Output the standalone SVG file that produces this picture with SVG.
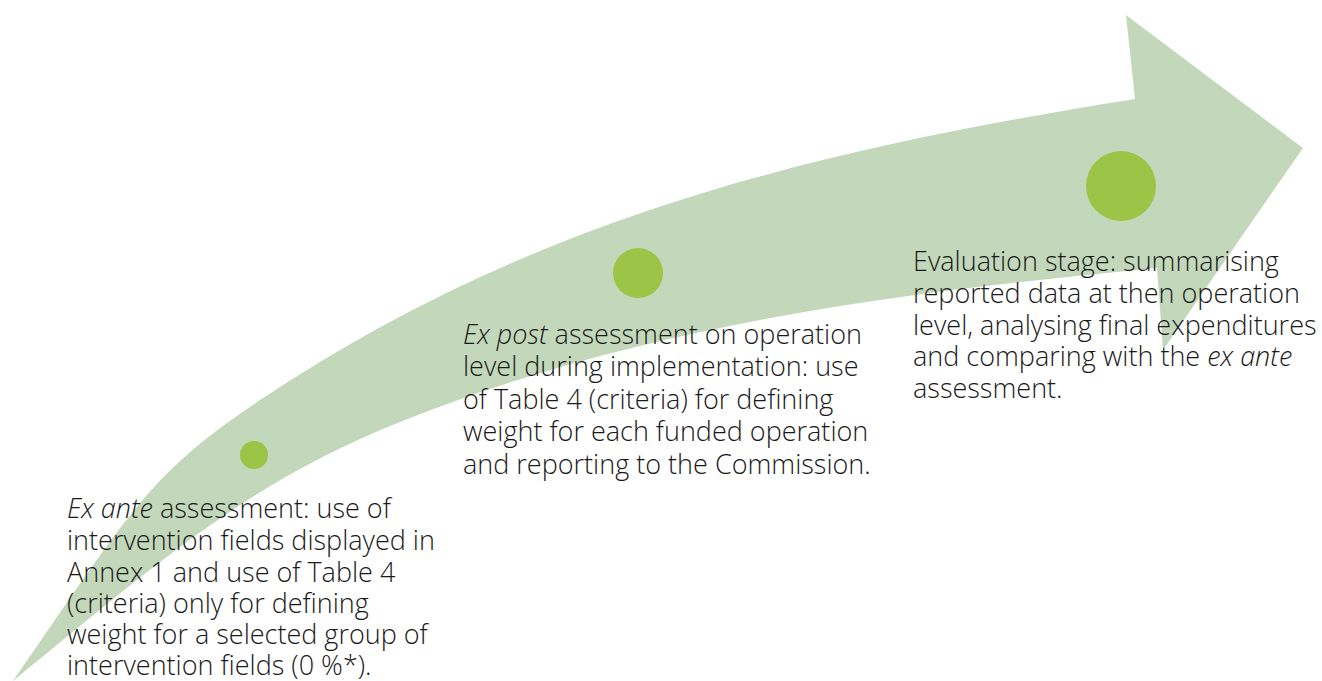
<svg xmlns="http://www.w3.org/2000/svg" width="1322" height="681" viewBox="0 0 1322 681">
<style>
.band{fill:#c3d8ba}
.dot{fill:#9cc446}
.lbl{font-family:"Open Sans","Noto Sans","DejaVu Sans",sans-serif;font-size:27px;font-weight:300;fill:#1a1a1a}
.it{font-style:italic}
</style>
<g id="arrow">
<path class="band" d="M13,681 C133,507 150,473.7 260,400 C540,212 835,147 1135,99 L1126,15 L1303,148 L1163,350 L1157,268 C907,292 650,322 400,422 C250,482 163,558 13,681 Z"/>
</g>
<g id="connectors"></g>
<g id="stage1">
<circle class="dot" cx="254" cy="455" r="14"/>
<text class="lbl" x="67" y="518"><tspan class="it">Ex ante</tspan> assessment: use of</text>
<text class="lbl" x="67" y="550">intervention fields displayed in</text>
<text class="lbl" x="67" y="582">Annex 1 and use of Table 4</text>
<text class="lbl" x="67" y="613">(criteria) only for defining</text>
<text class="lbl" x="67" y="644">weight for a selected group of</text>
<text class="lbl" x="67" y="675">intervention fields (0 %*).</text>
</g>
<g id="stage2">
<circle class="dot" cx="638" cy="273" r="25"/>
<text class="lbl" x="463" y="344"><tspan class="it">Ex post</tspan> assessment on operation</text>
<text class="lbl" x="463" y="376">level during implementation: use</text>
<text class="lbl" x="463" y="409">of Table 4 (criteria) for defining</text>
<text class="lbl" x="463" y="441">weight for each funded operation</text>
<text class="lbl" x="463" y="474">and reporting to the Commission.</text>
</g>
<g id="stage3">
<circle class="dot" cx="1121" cy="186" r="35"/>
<text class="lbl" x="913" y="271">Evaluation stage: summarising</text>
<text class="lbl" x="913" y="303">reported data at then operation</text>
<text class="lbl" x="913" y="335">level, analysing final expenditures</text>
<text class="lbl" x="913" y="366">and comparing with the <tspan class="it">ex ante</tspan></text>
<text class="lbl" x="913" y="398">assessment.</text>
</g>
</svg>
